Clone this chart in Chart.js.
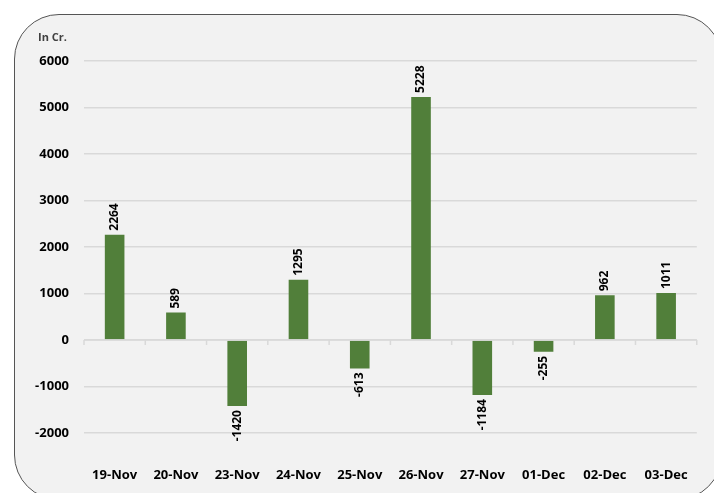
<!DOCTYPE html>
<html>
<head>
<meta charset="utf-8">
<script src="https://cdn.jsdelivr.net/npm/chart.js@4"></script>
<style>
  html, body { margin: 0; padding: 0; background: #fff; overflow: hidden; }
  #wrap { position: relative; width: 714px; height: 493px; }
  #box {
    position: absolute; left: 14px; top: 14px; width: 708px; height: 486px;
    border: 1.5px solid #555; border-radius: 45px; background: #f2f2f2; box-sizing: border-box;
  }
  #grafico { position: absolute; left: 0; top: 0; }
</style>
</head>
<body>
<div id="wrap">
  <div id="box"></div>
  <canvas id="grafico" width="714" height="493"></canvas>
</div>
<script>
const ctx = document.getElementById('grafico')

let datas = ['19-Nov', '20-Nov', '23-Nov', '24-Nov', '25-Nov', '26-Nov', '27-Nov', '01-Dec', '02-Dec', '03-Dec']
let valores = [2264, 589, -1420, 1295, -613, 5228, -1184, -255, 962, 1011]
let eixoY = [-2000, -1000, 0, 1000, 2000, 3000, 4000, 5000, 6000]

const fonte = "'Open Sans', 'Liberation Sans', sans-serif"

// rotulos verticais, linha do zero e marcas
const extras = {
    id: 'extras',
    afterDatasetsDraw(chart) {
        const c = chart.ctx
        const x = chart.scales.x
        const y = chart.scales.y
        const y0 = y.getPixelForValue(0)

        c.save()
        c.strokeStyle = '#d9d9d9'
        c.lineWidth = 1.5
        c.beginPath()
        c.moveTo(chart.chartArea.left, y0)
        c.lineTo(chart.chartArea.right, y0)
        let passo = x.getPixelForValue(1) - x.getPixelForValue(0)
        for (let i = 0; i <= datas.length; i++) {
            let px = x.getPixelForValue(0) - passo / 2 + i * passo
            c.moveTo(px, y0)
            c.lineTo(px, y0 + 5)
        }
        c.stroke()

        const meta = chart.getDatasetMeta(0)
        c.fillStyle = '#000'
        c.font = 'bold 12px ' + fonte
        c.textBaseline = 'middle'
        meta.data.forEach((bar, i) => {
            let v = valores[i]
            c.save()
            if (v >= 0) {
                c.translate(bar.x, bar.y - 4)
                c.rotate(-Math.PI / 2)
                c.textAlign = 'left'
            } else {
                c.translate(bar.x, bar.y + 4)
                c.rotate(-Math.PI / 2)
                c.textAlign = 'right'
            }
            c.fillText(String(v), 0, 0)
            c.restore()
        })

        c.fillStyle = '#404040'
        c.font = 'bold 11px ' + fonte
        c.textAlign = 'left'
        c.fillText('In Cr.', 38, 38)
        c.restore()
    }
}

let grafico = new Chart(ctx, {
    type: 'bar',
    data: {
        labels: datas,
        datasets: [{
            data: valores,
            backgroundColor: '#517f3a',
            barPercentage: 0.32,
            categoryPercentage: 1
        }]
    },
    options: {
        responsive: false,
        animation: false,
        layout: { padding: { top: 61, right: 7, left: 0, bottom: 0 } },
        plugins: {
            legend: { display: false },
            tooltip: { enabled: false }
        },
        scales: {
            x: {
                grid: { display: false },
                border: { display: false },
                ticks: {
                    color: '#000',
                    font: { family: fonte, size: 13, weight: 'bold' },
                    padding: 26,
                    maxRotation: 0
                },
                afterFit(s) { s.height = 60 }
            },
            y: {
                min: -2000,
                max: 6000,
                afterBuildTicks(s) { s.ticks = eixoY.map(v => ({ value: v })) },
                grid: { color: '#d9d9d9', lineWidth: 1.5, drawTicks: false },
                border: { display: false },
                ticks: {
                    color: '#000',
                    font: { family: fonte, size: 13, weight: 'bold' },
                    padding: 15,
                    callback: v => String(v)
                },
                afterFit(s) { s.width = 84 }
            }
        }
    },
    plugins: [extras]
})
</script>
</body>
</html>
